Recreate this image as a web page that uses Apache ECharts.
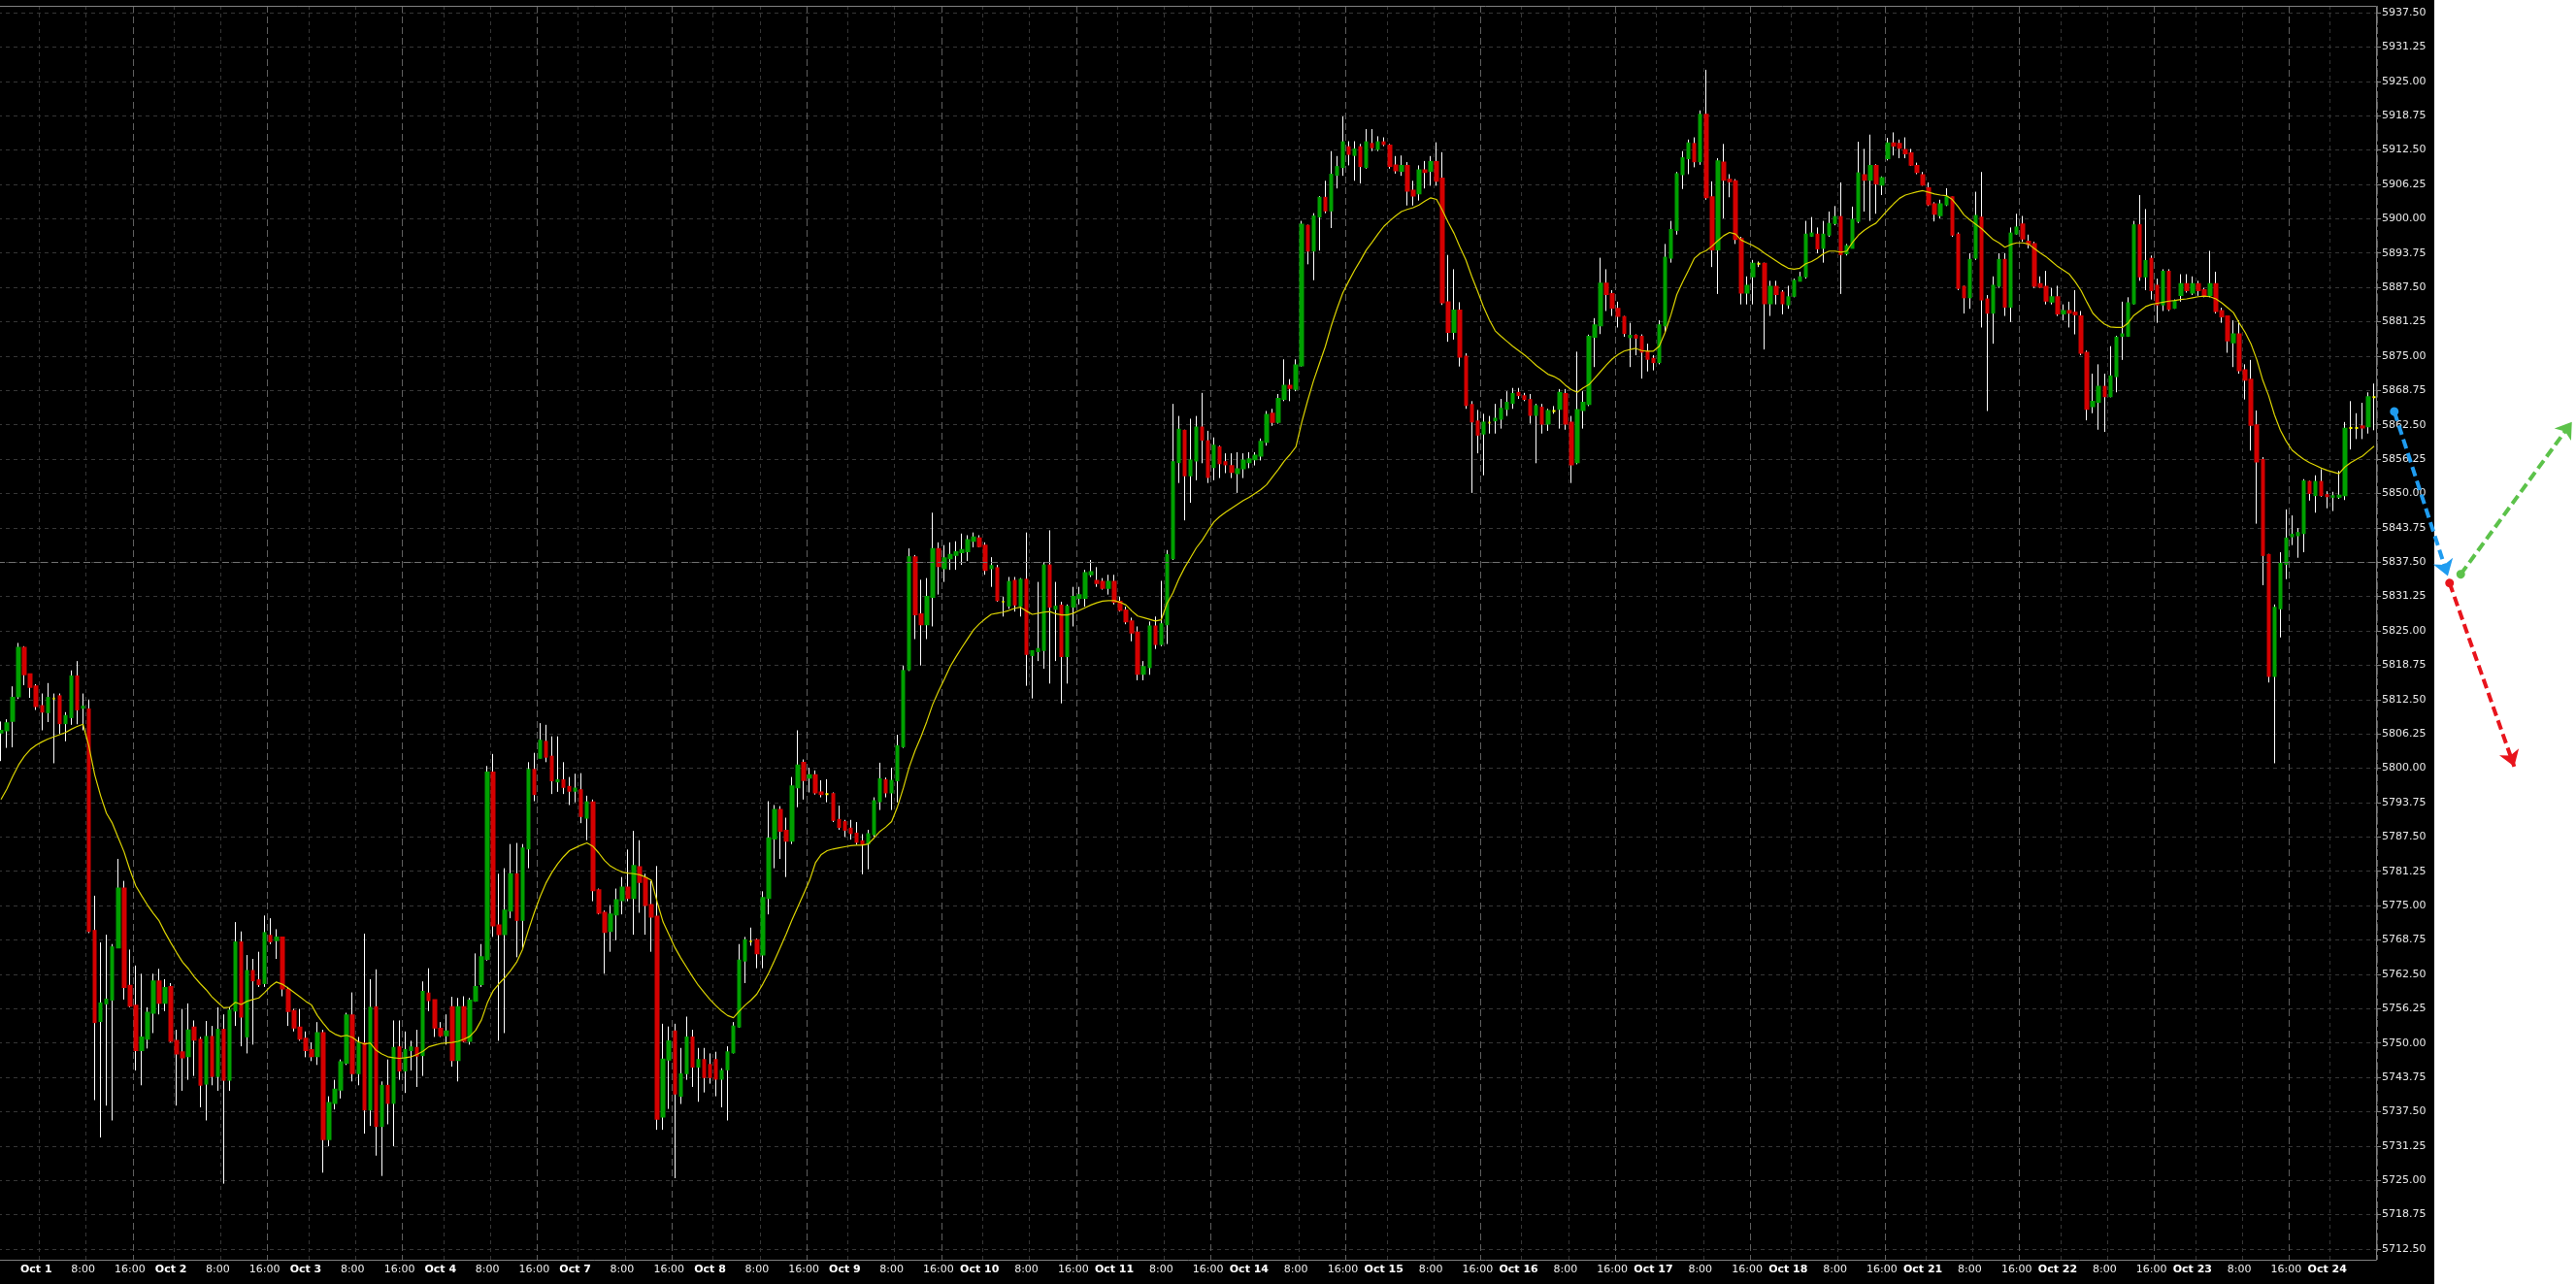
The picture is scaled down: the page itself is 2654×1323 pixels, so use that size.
<!DOCTYPE html>
<html><head><meta charset="utf-8">
<script src="https://cdn.jsdelivr.net/npm/echarts@6/dist/echarts.min.js"></script>
<style>
html,body{margin:0;padding:0;background:#fff;}
#chart{width:2654px;height:1323px;background:linear-gradient(to right,#000 0,#000 2508px,#fff 2508px);}
</style></head><body><div id="chart"></div>
<script>
// ---- axis categories (hourly bars, 23 per session) ----
const sessions = ['Oct 1','Oct 2','Oct 3','Oct 4','Oct 7','Oct 8','Oct 9','Oct 10','Oct 11','Oct 14','Oct 15','Oct 16','Oct 17','Oct 18','Oct 21','Oct 22','Oct 23','Oct 24'];
const sessionHours = [18,19,20,21,22,23,0,1,2,3,4,5,6,7,8,9,10,11,12,13,14,15,16];
const lastSessionBars = 15;
const labelHours = [0, 8, 16];
const boldLineHour = 16;

// ---- price ticks ----
const yMin = 5712.5, yMax = 5937.5, yStep = 6.25;
const refLevel = 5837.5;

// ---- OHLC ----
const opens = [
5806.5,5806.9,5808.6,5813.1,5821.9,5817.1,5814.9,5811.3,5810.2,5812.7,
5813.1,5808.2,5809.3,5816.7,5811.0,5810.7,5770.4,5754.0,5757.2,5757.9,
5767.4,5778.1,5760.4,5756.8,5748.7,5750.8,5755.5,5761.2,5757.3,5760.2,
5750.4,5748.3,5747.6,5752.8,5750.6,5742.6,5751.1,5744.0,5752.4,5743.3,
5755.9,5768.3,5751.2,5763.1,5761.4,5760.9,5769.5,5768.7,5769.2,5759.7,
5755.8,5752.8,5750.8,5748.7,5747.6,5751.8,5732.5,5739.1,5741.5,5746.4,
5755.0,5744.5,5749.9,5737.9,5756.5,5734.9,5742.2,5739.1,5749.2,5745.0,
5748.7,5749.1,5747.8,5759.0,5757.8,5752.6,5751.4,5756.5,5746.9,5756.5,
5750.4,5757.7,5760.7,5765.3,5799.2,5771.4,5769.8,5774.1,5780.7,5772.4,
5785.4,5799.7,5801.9,5804.8,5802.1,5797.6,5797.8,5796.6,5795.9,5796.0,
5791.0,5793.8,5777.8,5773.7,5770.4,5773.4,5776.0,5778.3,5776.4,5782.0,
5780.0,5775.1,5773.0,5736.6,5747.0,5752.1,5740.4,5744.5,5751.0,5745.7,
5746.9,5746.0,5746.9,5743.5,5745.2,5748.3,5753.0,5765.0,5768.5,5768.7,
5766.1,5776.4,5787.2,5792.4,5788.6,5786.8,5796.5,5801.0,5798.3,5798.75,
5795.6,5795.3,5795.3,5790.6,5790.2,5789.0,5788.1,5786.7,5786.3,5788.0,
5794.0,5797.8,5795.6,5797.8,5804.0,5818.0,5838.4,5828.0,5826.2,5831.2,
5839.9,5836.4,5838.2,5838.8,5839.3,5839.5,5841.4,5841.8,5840.5,5836.4,
5836.4,5830.3,5829.6,5834.1,5829.6,5834.3,5820.6,5821.3,5821.5,5836.9,
5829.0,5829.6,5820.4,5829.4,5831.0,5831.0,5835.3,5834.1,5833.9,5832.8,
5833.9,5830.3,5828.7,5826.7,5824.7,5817.2,5818.4,5825.8,5822.6,5826.2,
5838.2,5855.7,5861.4,5853.3,5856.0,5862.0,5859.5,5854.8,5858.4,5855.7,
5855.0,5853.7,5854.6,5855.7,5856.2,5856.9,5859.4,5864.5,5863.0,5867.2,
5869.6,5869.0,5873.3,5898.7,5894.2,5900.4,5903.8,5901.5,5908.0,5909.4,
5913.0,5911.6,5913.0,5909.4,5913.6,5912.7,5913.9,5913.3,5909.7,5908.7,
5909.6,5905.1,5904.6,5908.8,5908.7,5910.3,5907.3,5884.8,5879.4,5883.3,
5874.9,5866.1,5863.1,5860.9,5862.9,5863.3,5863.6,5865.4,5866.5,5868.3,
5867.7,5867.0,5864.3,5865.6,5862.7,5865.0,5865.4,5868.1,5862.9,5855.7,
5865.2,5866.3,5878.5,5880.6,5888.2,5886.3,5883.6,5882.1,5878.45,5878.7,
5878.5,5875.8,5874.5,5873.9,5880.6,5892.9,5897.95,5908.1,5911.0,5913.6,
5910.45,5918.9,5903.9,5894.4,5910.2,5907.1,5906.8,5896.3,5886.55,5889.5,
5891.8,5891.8,5884.6,5887.6,5886.55,5884.4,5885.96,5888.7,5889.5,5896.9,
5897.1,5894.7,5897.1,5899.2,5900.3,5893.7,5894.7,5899.6,5907.9,5907.1,
5909.6,5906.2,5911.0,5913.7,5913.6,5912.5,5911.9,5909.6,5907.9,5905.55,
5902.6,5900.65,5902.6,5903.9,5897.1,5887.6,5885.7,5892.9,5900.2,5885.3,
5882.9,5887.8,5892.5,5884.0,5897.3,5898.96,5895.8,5895.4,5888.1,5887.6,
5884.9,5885.7,5882.75,5883.2,5882.9,5882.2,5875.6,5865.9,5866.7,5869.4,
5867.7,5871.35,5878.7,5878.7,5884.6,5898.8,5889.5,5892.7,5887.8,5884.4,
5890.35,5883.8,5886.1,5888.1,5886.55,5888.1,5887.0,5886.1,5888.1,5883.2,
5882.2,5877.5,5878.95,5872.4,5870.7,5862.4,5856.1,5838.8,5816.8,5829.1,
5837.2,5842.2,5842.4,5842.8,5852.1,5849.7,5852.1,5849.7,5849.4,5849.4,
5849.7,5861.9,5861.9,5862.2,5862.2,5867.5
];
const highs = [
5808.5,5808.9,5814.9,5822.8,5822.2,5817.2,5815.3,5813.6,5815.5,5813.6,
5813.6,5810.2,5817.8,5819.5,5813.6,5812.5,5776.8,5768.3,5769.7,5768.0,
5783.5,5779.5,5767.0,5764.1,5762.6,5756.5,5762.6,5763.5,5761.6,5760.9,
5752.4,5756.2,5757.2,5754.1,5751.1,5754.0,5753.1,5756.5,5755.2,5756.5,
5772.0,5770.3,5766.0,5765.3,5766.6,5773.2,5772.7,5770.7,5769.3,5760.2,
5756.2,5756.2,5752.1,5750.1,5753.8,5752.4,5740.3,5743.3,5747.0,5755.5,
5759.2,5751.1,5769.9,5761.6,5763.4,5743.0,5747.0,5754.1,5754.1,5752.1,
5750.4,5752.4,5761.2,5763.6,5757.8,5753.8,5755.2,5758.4,5758.2,5758.5,
5758.2,5766.3,5768.0,5800.4,5802.6,5780.8,5781.8,5786.2,5786.4,5786.2,
5801.1,5802.8,5808.2,5807.9,5805.8,5805.8,5801.1,5798.4,5799.0,5799.1,
5795.0,5794.3,5778.1,5774.1,5775.1,5778.1,5780.2,5785.2,5788.6,5786.9,
5780.8,5779.5,5782.2,5753.5,5753.0,5753.5,5749.1,5754.8,5752.4,5749.1,
5749.1,5748.1,5748.4,5745.4,5749.4,5753.8,5768.0,5769.3,5771.0,5769.0,
5777.6,5794.0,5793.3,5793.1,5791.0,5798.4,5806.9,5801.6,5800.1,5799.6,
5797.8,5798.0,5795.6,5793.2,5790.6,5790.6,5790.2,5788.0,5788.8,5794.7,
5801.0,5798.3,5800.1,5806.1,5818.7,5840.0,5838.8,5834.3,5834.6,5846.5,
5841.1,5840.6,5841.1,5841.3,5842.7,5842.4,5842.9,5842.4,5841.1,5838.4,
5837.0,5831.2,5834.8,5834.8,5834.6,5842.9,5821.3,5833.9,5837.5,5843.3,
5833.9,5830.3,5829.8,5833.0,5833.0,5836.1,5837.9,5836.6,5834.6,5835.2,
5835.2,5831.2,5829.4,5827.4,5825.8,5819.5,5826.7,5827.6,5834.1,5839.7,
5866.3,5864.1,5861.6,5863.6,5864.1,5868.3,5861.4,5860.2,5858.7,5857.3,
5857.3,5857.5,5857.3,5857.5,5857.5,5860.0,5865.0,5865.4,5868.1,5874.4,
5870.8,5874.4,5899.6,5898.9,5901.0,5904.1,5906.9,5912.3,5911.4,5918.6,
5914.1,5914.1,5913.6,5916.3,5916.3,5915.0,5914.8,5913.6,5911.4,5911.5,
5910.3,5906.9,5909.7,5910.5,5911.4,5913.9,5912.1,5893.4,5890.8,5884.8,
5875.5,5866.8,5865.2,5864.5,5864.1,5866.3,5867.2,5868.6,5869.2,5869.2,
5868.3,5868.1,5866.3,5866.3,5865.4,5865.9,5869.0,5869.0,5864.1,5875.8,
5868.6,5878.9,5881.9,5892.9,5890.8,5887.0,5884.9,5882.3,5881.05,5878.95,
5878.95,5877.25,5875.15,5881.5,5895.4,5899.6,5908.5,5912.3,5914.4,5914.8,
5919.7,5927.1,5906.8,5911.0,5913.6,5908.1,5907.2,5896.7,5889.5,5892.5,
5892.2,5892.0,5888.7,5888.7,5887.0,5887.8,5889.1,5890.35,5899.6,5900.3,
5898.4,5899.6,5901.3,5902.3,5906.6,5895.4,5902.2,5914.0,5912.7,5915.3,
5909.9,5907.7,5914.7,5915.7,5914.4,5914.8,5912.7,5910.2,5908.5,5906.6,
5903.0,5903.45,5905.55,5904.0,5897.5,5887.8,5893.7,5904.9,5908.5,5886.1,
5889.5,5893.7,5893.7,5898.4,5900.9,5900.5,5897.1,5895.8,5889.5,5890.5,
5887.4,5887.8,5884.4,5884.9,5887.0,5883.2,5876.0,5871.8,5873.5,5871.8,
5876.8,5878.7,5884.9,5885.7,5899.6,5904.3,5901.75,5893.3,5889.1,5890.8,
5890.8,5885.3,5889.9,5889.9,5889.5,5888.7,5887.4,5894.15,5890.35,5883.8,
5882.3,5881.5,5881.5,5873.5,5874.3,5865.1,5856.6,5839.0,5829.8,5839.3,
5847.1,5846.0,5843.7,5852.6,5852.3,5853.3,5854.4,5850.4,5850.3,5854.1,
5863.0,5866.8,5864.6,5866.5,5868.4,5870.0
];
const lows = [
5801.3,5803.7,5803.8,5812.6,5815.1,5812.8,5810.6,5806.9,5808.4,5800.9,
5806.2,5804.9,5807.9,5808.0,5806.9,5770.0,5739.6,5732.8,5738.6,5735.9,
5767.3,5757.9,5756.5,5745.0,5742.3,5749.0,5751.8,5755.2,5755.8,5750.1,
5738.6,5741.3,5743.3,5744.0,5738.3,5735.9,5742.3,5741.3,5724.4,5741.3,
5753.1,5749.4,5748.1,5749.7,5760.2,5760.2,5768.0,5765.3,5758.5,5753.1,
5752.1,5750.4,5747.4,5746.7,5746.0,5726.4,5731.2,5737.9,5739.9,5746.0,
5743.0,5742.3,5733.5,5734.9,5729.5,5725.8,5735.2,5731.2,5743.3,5740.9,
5745.0,5742.0,5744.0,5755.8,5751.1,5751.1,5749.7,5745.7,5743.0,5750.1,
5749.7,5757.5,5760.2,5765.0,5769.3,5750.4,5751.8,5772.7,5765.6,5767.3,
5781.8,5794.0,5801.8,5801.1,5795.3,5795.7,5795.3,5793.3,5793.8,5790.0,
5786.9,5775.8,5773.4,5762.6,5766.6,5768.7,5773.4,5775.8,5769.7,5773.7,
5769.7,5766.6,5734.2,5734.2,5738.0,5725.4,5738.9,5743.3,5742.0,5739.3,
5741.0,5742.6,5740.3,5738.3,5735.9,5748.1,5752.8,5760.9,5767.7,5763.6,
5763.6,5773.4,5781.8,5783.5,5780.2,5786.2,5792.9,5794.3,5795.6,5795.2,
5794.7,5793.8,5790.2,5788.8,5787.5,5787.0,5786.1,5780.7,5781.6,5787.5,
5792.4,5794.7,5792.4,5793.8,5803.7,5817.7,5823.5,5818.7,5823.5,5825.8,
5831.6,5833.9,5836.1,5836.1,5837.0,5837.7,5840.2,5840.2,5835.2,5833.0,
5830.3,5827.6,5829.0,5828.5,5827.6,5815.0,5812.7,5819.5,5818.1,5815.4,
5819.5,5811.8,5815.4,5825.8,5829.8,5829.4,5834.8,5833.0,5832.5,5831.6,
5829.8,5828.5,5826.2,5823.1,5816.0,5816.0,5817.0,5821.7,5822.2,5822.6,
5837.9,5851.9,5845.1,5848.3,5852.4,5855.5,5851.9,5852.4,5852.8,5853.7,
5852.8,5850.1,5852.8,5854.6,5855.1,5856.0,5858.7,5862.3,5862.7,5866.8,
5866.8,5868.6,5873.1,5891.7,5888.8,5894.2,5901.0,5898.3,5905.5,5907.8,
5909.7,5906.9,5906.4,5909.1,5912.3,5912.3,5913.2,5909.1,5908.2,5907.8,
5902.4,5902.4,5903.3,5905.5,5906.0,5906.0,5884.3,5877.6,5878.0,5873.1,
5865.4,5850.1,5857.3,5853.3,5860.9,5860.9,5861.8,5864.1,5865.4,5867.2,
5866.8,5862.7,5855.5,5860.9,5861.4,5864.5,5861.8,5861.6,5851.9,5855.3,
5861.8,5865.9,5873.0,5879.0,5883.2,5882.3,5880.2,5878.5,5873.0,5875.15,
5870.9,5872.2,5872.4,5873.5,5879.4,5892.0,5897.1,5905.4,5908.1,5909.35,
5909.8,5903.45,5891.2,5886.3,5900.06,5903.9,5895.4,5884.4,5884.4,5884.4,
5891.2,5876.2,5882.3,5884.4,5882.6,5883.6,5885.7,5888.7,5889.1,5896.7,
5893.7,5892.0,5896.7,5898.8,5886.3,5893.3,5894.6,5899.2,5901.3,5899.6,
5900.9,5904.3,5910.6,5911.5,5911.0,5911.0,5909.6,5908.1,5906.0,5902.3,
5899.5,5900.06,5902.3,5896.7,5887.0,5882.75,5883.6,5892.5,5880.2,5865.0,
5877.25,5887.4,5882.3,5881.2,5897.1,5895.8,5894.6,5887.4,5887.4,5884.4,
5884.4,5882.3,5881.5,5880.2,5878.95,5875.15,5863.3,5864.6,5861.6,5861.2,
5867.5,5868.4,5874.3,5878.5,5884.4,5888.7,5887.0,5885.3,5881.05,5883.2,
5883.2,5883.6,5884.9,5886.55,5886.1,5885.96,5885.7,5885.7,5882.75,5881.05,
5875.6,5873.0,5871.8,5867.1,5857.8,5844.5,5833.3,5815.6,5800.9,5823.8,
5834.4,5840.6,5838.3,5839.3,5848.7,5846.5,5849.4,5847.3,5846.8,5849.0,
5848.8,5858.0,5859.9,5859.9,5860.9,5861.5
];
const closes = [
5806.8,5808.2,5812.8,5821.9,5817.1,5814.8,5811.3,5810.3,5812.8,5812.7,
5808.2,5809.5,5816.7,5810.7,5811.2,5770.4,5753.8,5757.2,5757.9,5767.4,
5778.1,5760.2,5756.8,5748.7,5751.0,5755.5,5761.2,5757.3,5760.0,5750.4,
5748.1,5747.4,5752.3,5750.6,5742.4,5751.1,5744.0,5752.4,5743.3,5755.9,
5768.3,5754.8,5763.1,5761.4,5760.7,5770.0,5768.5,5769.2,5759.9,5755.8,
5752.8,5750.8,5748.7,5747.6,5751.8,5732.5,5739.1,5741.5,5746.5,5755.0,
5744.5,5749.9,5737.9,5756.4,5734.9,5742.2,5739.1,5749.1,5745.0,5748.7,
5749.2,5747.7,5759.3,5757.8,5752.8,5751.4,5752.1,5746.9,5756.5,5750.4,
5757.7,5760.2,5765.6,5799.2,5771.4,5769.8,5774.1,5780.7,5772.4,5785.4,
5799.7,5795.3,5805.0,5802.1,5797.8,5797.8,5796.6,5795.9,5796.3,5791.3,
5793.8,5777.8,5773.7,5770.2,5773.4,5776.0,5778.3,5776.4,5782.2,5779.3,
5775.1,5773.0,5736.2,5747.0,5750.3,5740.8,5744.3,5751.0,5745.7,5746.9,
5743.8,5743.8,5743.5,5744.9,5748.3,5753.0,5765.0,5768.7,5768.5,5766.3,
5776.4,5787.2,5792.4,5788.6,5786.8,5796.7,5800.5,5797.85,5798.75,5795.6,
5795.3,5795.3,5790.6,5789.3,5788.8,5788.2,5786.6,5786.3,5788.0,5794.0,
5798.0,5795.6,5797.7,5804.0,5817.7,5838.4,5828.0,5826.2,5831.2,5839.9,
5836.8,5838.2,5838.8,5839.3,5839.7,5841.5,5842.0,5840.4,5836.1,5836.8,
5830.6,5830.3,5833.9,5829.8,5834.3,5820.8,5821.3,5821.7,5836.9,5829.4,
5829.4,5820.4,5829.4,5831.2,5831.5,5835.5,5835.7,5833.7,5832.8,5833.9,
5830.3,5828.8,5826.7,5824.7,5817.2,5818.4,5825.8,5822.6,5826.2,5838.8,
5855.7,5861.6,5853.3,5856.0,5862.0,5859.8,5853.0,5858.7,5855.5,5855.3,
5853.9,5854.4,5856.0,5856.2,5856.9,5859.4,5864.3,5863.0,5867.2,5869.6,
5869.2,5873.3,5898.9,5894.2,5900.4,5903.8,5901.5,5908.0,5909.4,5913.9,
5911.8,5912.6,5909.6,5913.9,5913.0,5913.9,5913.6,5909.6,5908.8,5909.6,
5905.1,5904.2,5908.8,5908.5,5910.3,5906.9,5884.8,5879.4,5883.3,5874.9,
5866.1,5863.1,5860.7,5862.9,5862.9,5863.6,5865.4,5866.5,5868.1,5867.9,
5867.2,5864.3,5865.9,5862.7,5865.0,5865.0,5868.3,5862.7,5855.3,5865.2,
5866.5,5878.5,5880.6,5888.2,5886.3,5883.8,5882.3,5879.2,5878.7,5878.35,
5875.8,5874.5,5873.9,5880.6,5892.9,5897.95,5908.1,5911.0,5913.7,5910.45,
5918.9,5903.9,5894.4,5910.45,5907.1,5906.8,5896.3,5886.55,5887.8,5891.8,
5891.8,5884.6,5887.6,5886.3,5884.6,5885.7,5888.7,5889.35,5897.1,5897.3,
5894.6,5897.1,5899.05,5900.3,5893.56,5895.0,5899.8,5908.25,5907.1,5909.6,
5906.4,5907.4,5913.7,5913.3,5912.9,5911.9,5909.8,5908.5,5906.2,5902.6,
5900.9,5902.6,5903.9,5897.1,5887.4,5885.7,5892.5,5900.5,5885.3,5882.9,
5887.8,5892.5,5884.0,5897.3,5898.4,5896.4,5895.4,5887.8,5887.6,5885.1,
5885.7,5882.75,5883.2,5882.9,5882.6,5875.6,5865.4,5866.7,5869.4,5867.7,
5871.3,5878.35,5878.95,5884.6,5898.8,5889.5,5892.3,5887.0,5884.4,5890.35,
5883.6,5884.9,5888.1,5887.0,5888.1,5887.0,5886.1,5888.1,5883.2,5882.2,
5877.85,5878.95,5872.4,5870.7,5862.5,5855.8,5838.8,5816.8,5829.2,5837.2,
5841.8,5842.5,5842.8,5852.2,5850.1,5852.1,5849.7,5849.5,5849.5,5849.6,
5861.8,5861.9,5861.9,5862.0,5867.5,5867.5
];
// ---- moving average line ----
const movingAvg = [
5794.3,5796.2,5798.5,5800.6,5802.2,5803.4,5804.2,5804.8,5805.3,5805.7,
5806.1,5806.5,5807.1,5807.6,5808.0,5804.0,5798.8,5795.0,5791.8,5790.0,
5787.4,5784.8,5781.5,5778.6,5776.8,5775.1,5773.6,5772.2,5770.1,5768.2,
5766.4,5764.7,5763.5,5762.0,5760.8,5759.7,5758.4,5757.4,5756.4,5756.5,
5757.4,5757.0,5757.6,5757.9,5758.2,5759.2,5760.3,5761.1,5760.7,5760.0,
5759.2,5758.4,5757.6,5756.9,5755.0,5753.6,5752.3,5751.6,5751.2,5751.4,
5751.0,5750.2,5749.8,5750.0,5748.7,5748.0,5747.5,5747.3,5747.2,5747.3,
5747.5,5747.9,5748.5,5749.3,5749.6,5749.9,5750.0,5750.1,5750.3,5750.7,
5751.2,5752.3,5754.2,5757.3,5759.5,5760.8,5761.9,5763.2,5764.7,5767.0,
5770.5,5773.7,5776.6,5779.1,5781.0,5782.6,5783.9,5785.0,5785.5,5786.0,
5786.4,5785.8,5784.6,5783.2,5782.2,5781.6,5781.1,5780.9,5780.8,5780.6,
5780.2,5779.6,5775.6,5772.0,5769.7,5767.4,5765.5,5763.8,5762.1,5760.5,
5759.2,5757.9,5756.8,5755.8,5755.0,5754.6,5755.8,5756.9,5757.8,5758.9,
5760.7,5762.7,5765.0,5767.4,5769.8,5772.4,5774.8,5777.2,5779.6,5782.8,
5784.3,5785.0,5785.3,5785.5,5785.7,5785.9,5786.0,5786.0,5786.2,5787.3,
5788.5,5789.3,5790.3,5793.0,5796.4,5800.2,5803.2,5805.7,5808.5,5811.6,
5814.0,5816.2,5818.5,5820.3,5822.0,5823.6,5825.2,5826.3,5827.2,5828.0,
5828.2,5828.4,5828.7,5829.1,5829.3,5828.6,5828.0,5828.2,5828.4,5828.5,
5828.1,5827.9,5827.9,5828.2,5828.7,5829.2,5829.7,5830.1,5830.4,5830.5,
5830.5,5830.2,5829.7,5828.6,5827.7,5827.4,5827.1,5826.8,5827.0,5830.0,
5831.9,5834.4,5836.5,5838.3,5840.1,5841.5,5843.2,5844.8,5845.8,5846.6,
5847.3,5848.0,5848.7,5849.3,5850.0,5850.7,5851.6,5853.0,5854.4,5855.9,
5857.1,5858.5,5863.0,5866.9,5870.5,5873.6,5876.7,5880.4,5883.6,5886.5,
5888.6,5890.6,5892.4,5894.3,5895.7,5897.2,5898.6,5899.6,5900.5,5901.3,
5901.7,5902.0,5902.5,5903.2,5903.8,5903.5,5901.5,5899.3,5897.3,5894.8,
5892.5,5889.5,5886.8,5884.0,5881.6,5879.6,5878.6,5877.7,5876.8,5876.0,
5875.2,5874.3,5873.3,5872.5,5871.7,5871.3,5870.7,5869.7,5868.9,5868.4,
5869.2,5869.8,5871.0,5872.2,5873.4,5874.5,5875.3,5875.9,5876.2,5876.4,
5876.0,5875.9,5875.9,5876.8,5879.3,5882.5,5886.2,5888.5,5890.6,5892.8,
5893.7,5894.2,5895.0,5896.0,5896.9,5897.5,5897.2,5896.1,5895.6,5895.1,
5894.5,5893.7,5893.0,5892.3,5891.6,5891.0,5890.8,5891.0,5891.8,5892.2,
5892.8,5893.6,5894.1,5894.1,5893.9,5894.1,5895.7,5897.0,5897.9,5898.6,
5899.2,5900.4,5901.6,5902.7,5903.7,5904.3,5904.6,5904.9,5905.1,5904.8,
5904.5,5904.3,5904.2,5903.5,5902.2,5900.7,5899.8,5899.0,5898.2,5897.2,
5896.2,5895.6,5894.8,5895.3,5895.6,5895.6,5895.4,5894.6,5893.8,5893.1,
5892.2,5891.3,5890.6,5889.9,5888.5,5886.9,5884.8,5882.8,5881.7,5880.8,
5880.3,5880.2,5880.2,5881.0,5882.4,5883.2,5884.0,5884.4,5884.6,5884.8,
5885.0,5885.1,5885.3,5885.4,5885.6,5885.8,5885.9,5885.8,5885.4,5884.7,
5883.8,5882.9,5881.0,5879.3,5877.2,5874.3,5870.6,5867.8,5864.3,5861.5,
5859.5,5857.9,5857.0,5856.2,5855.6,5855.1,5854.6,5854.2,5853.9,5853.6,
5854.8,5855.6,5856.2,5856.8,5857.7,5858.6
];
// ---- projected path arrows: [hours ahead, price] ----
const arrowBlue  = [[3.1, 5864.9], [12.2, 5835.0]];
const arrowGreen = [[14.4, 5835.3], [33.3, 5863.0]];
const arrowRed   = [[12.5, 5833.7], [23.5, 5800.3]];

// ---- build categories ----
const catSession = [], catHour = [], cats = [];
sessions.forEach((s, si) => {
  const n = si === sessions.length - 1 ? lastSessionBars : sessionHours.length;
  for (let k = 0; k < n; k++) {
    catSession.push(s); catHour.push(sessionHours[k]);
    cats.push(s + ' ' + sessionHours[k] + ':00');
  }
});

const UP = '#00a000', DOWN = '#d40000', DOJI = '#ffff00';
const wickData = opens.map((o, i) => [o, closes[i], Math.min(lows[i], o, closes[i]), Math.max(highs[i], o, closes[i])]);
const bodyData = opens.map((o, i) => {
  const c = closes[i];
  const v = [o, c, Math.min(o, c), Math.max(o, c)];
  if (o === c) return { value: v, itemStyle: { color: DOJI, color0: DOJI, borderColor: DOJI, borderColor0: DOJI, borderColorDoji: DOJI } };
  return v;
});

const FONT = 'DejaVu Sans';
const gridL = -2, gridR = 205;
const isLabelIdx = i => i >= 0 && i < catHour.length && labelHours.indexOf(catHour[i]) >= 0;
// the final (still forming) bar carries no axis label
const showLabelIdx = i => isLabelIdx(i) && i < catHour.length - 1;

const chart = echarts.init(document.getElementById('chart'), null, { renderer: 'canvas' });
chart.setOption({
  animation: false,
  backgroundColor: 'transparent',
  textStyle: { fontFamily: FONT },
  grid: [
    { left: gridL, right: gridR, top: 13, bottom: 36, containLabel: false, outerBoundsMode: 'none' },
    { left: gridL, right: gridR, top: 6, bottom: 25, containLabel: false, outerBoundsMode: 'none' },
    { left: 2448, right: 0, top: 13, bottom: 36, containLabel: false, outerBoundsMode: 'none' }
  ],
  xAxis: [
    { type: 'category', gridIndex: 0, data: cats, boundaryGap: true,
      axisLine: { show: false }, axisTick: { show: false }, splitLine: { show: false },
      axisLabel: {
        interval: (i) => showLabelIdx(i), margin: 16, color: '#f0f0f0', fontSize: 11, fontFamily: FONT,
        formatter: (v, i) => catHour[i] === 0 ? '{d|' + catSession[i] + '}' : catHour[i] + ':00',
        rich: { d: { fontWeight: 'bold', fontSize: 11, color: '#ffffff', fontFamily: FONT } }
      } },
    { type: 'category', gridIndex: 1, data: cats, boundaryGap: true,
      axisLine: { show: false }, axisTick: { show: false }, axisLabel: { show: false },
      splitLine: { show: true, interval: (i) => isLabelIdx(i - 1) && catHour[i - 1] !== boldLineHour,
        lineStyle: { color: '#363636', type: [4, 4], width: 1 } } },
    { type: 'category', gridIndex: 1, data: cats, boundaryGap: true,
      axisLine: { show: false }, axisTick: { show: false }, axisLabel: { show: false },
      splitLine: { show: true, interval: (i) => i >= 1 && catHour[i - 1] === boldLineHour,
        lineStyle: { color: '#5e5e5e', type: [7, 4], width: 1 } } },
    { type: 'value', gridIndex: 2, min: 0, max: 34, show: false }
  ],
  yAxis: [
    { type: 'value', gridIndex: 0, position: 'right', min: yMin, max: yMax, interval: yStep, scale: true,
      axisLine: { show: false },
      axisTick: { show: true, length: 4, lineStyle: { color: '#888' } },
      axisLabel: { margin: 5, color: '#e8e8e8', fontSize: 11, fontFamily: FONT, formatter: v => v.toFixed(2) },
      splitLine: { show: true, lineStyle: { color: '#363636', type: [4, 4], width: 1 } } },
    { type: 'value', gridIndex: 1, min: 0, max: 1, show: false },
    { type: 'value', gridIndex: 2, min: yMin, max: yMax, show: false }
  ],
  graphic: [
    { type: 'polyline', silent: true, z: 5,
      shape: { points: [[0, 6.5], [2448.5, 6.5], [2448.5, 1298.5], [0, 1298.5]] },
      style: { stroke: '#808080', fill: null, lineWidth: 1 } }
  ],
  series: [
    { type: 'candlestick', name: 'wick', xAxisIndex: 0, yAxisIndex: 0, data: wickData, barWidth: 0.5, z: 3,
      itemStyle: { color: 'transparent', color0: 'transparent', borderColor: '#ffffff', borderColor0: '#ffffff', borderColorDoji: '#ffffff', borderWidth: 1 },
      markLine: { silent: true, symbol: ['none', 'none'], label: { show: false },
        lineStyle: { color: '#707070', type: [7, 4], width: 1 }, data: [{ yAxis: refLevel }] } },
    { type: 'candlestick', name: 'body', xAxisIndex: 0, yAxisIndex: 0, data: bodyData, barWidth: 3, z: 4,
      itemStyle: { color: UP, color0: DOWN, borderColor: UP, borderColor0: DOWN, borderColorDoji: DOJI, borderWidth: 2 } },
    { type: 'line', name: 'MA', xAxisIndex: 0, yAxisIndex: 0, data: movingAvg, showSymbol: false, symbol: 'none', z: 6,
      lineStyle: { color: '#dcd400', width: 1.2 } },
    { type: 'lines', coordinateSystem: 'cartesian2d', xAxisIndex: 3, yAxisIndex: 2, z: 20, clip: false,
      symbol: ['circle', 'arrow'], symbolSize: [9, 16],
      lineStyle: { width: 4, type: [10, 5], opacity: 1, curveness: 0 },
      data: [
        { coords: arrowBlue, lineStyle: { color: '#1f9cf0' } },
        { coords: arrowGreen, lineStyle: { color: '#5cc24a' } },
        { coords: arrowRed, lineStyle: { color: '#e8141c' } }
      ] }
  ]
});
</script></body></html>
